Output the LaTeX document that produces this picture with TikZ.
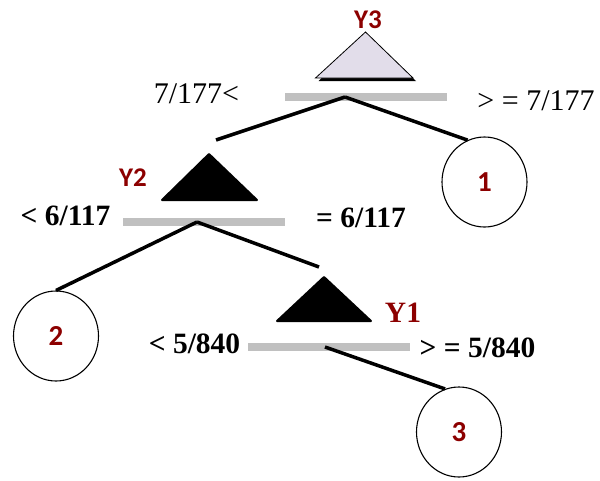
\documentclass[tikz,border=0pt]{standalone}
\usepackage{fontspec}
\setmainfont{Liberation Serif}
\newfontfamily\carl{Carlito}
\usetikzlibrary{shapes.geometric}
\definecolor{dred}{RGB}{140,0,0}
\definecolor{lav}{RGB}{226,221,234}
\definecolor{barc}{RGB}{192,192,192}
\begin{document}
\begin{tikzpicture}[x=1pt,y=-1pt,
  branch/.style={line width=3.5pt},
  splitbar/.style={draw=barc,line width=7.5pt},
  leaf/.style={ellipse,draw,line width=1.1pt,minimum width=85pt,minimum height=90pt,inner sep=0pt,font=\carl\bfseries\fontsize{29}{29}\selectfont,text=dred},
  ylab/.style={font=\carl\bfseries\fontsize{27}{27}\selectfont,text=dred,anchor=base,inner sep=0pt},
  thr/.style={font=\bfseries\fontsize{29.5}{29.5}\selectfont,anchor=base,inner sep=0pt},
  thrreg/.style={font=\fontsize{30}{30}\selectfont,anchor=base,inner sep=0pt},
  solidtri/.style={fill=black,draw=black,line width=2pt,line join=round}
]
\useasboundingbox (0,0) rectangle (600,480);
% Y3 split
\fill[black] (318.5,81) -- (368.5,35) -- (416,81) -- cycle;
\filldraw[fill=lav,draw=black,line width=0.8pt] (315.5,78) -- (365.5,32) -- (413,78) -- cycle;
\node[ylab] (y3) at (368,28) {Y3};
\draw[splitbar] (285,97) -- (447,97);
\coordinate (s3) at (345,97);
\node[thrreg] (t3l) at (196.5,103) {7/177<};
\node[thrreg] (t3r) at (536,110) {> = 7/177};
% Y2 split
\draw[solidtri] (162,200) -- (209,154) -- (257,200) -- cycle;
\node[ylab] (y2) at (133,186) {Y2};
\draw[splitbar] (123,222) -- (285,222);
\coordinate (s2) at (197,222);
\node[thr] (t2l) at (65.5,225) {< 6/117};
\node[thr] (t2r) at (361,227) {= 6/117};
% Y1 split
\draw[solidtri] (277,321) -- (324,277) -- (371,321) -- cycle;
\node[thr,text=dred] (y1) at (403,322) {Y1};
\draw[splitbar] (248,347) -- (410,347);
\coordinate (s1) at (325,347);
\node[thr] (t1l) at (194.5,353) {< 5/840};
\node[thr] (t1r) at (477.5,357) {> = 5/840};
% leaves
\node[leaf] (c1) at (484.5,182) {1};
\node[leaf] (c2) at (56,336) {2};
\node[leaf] (c3) at (459,432) {3};
% connectors
\coordinate (e1) at (216,140);
\coordinate (e2) at (319,267);
\draw[branch] (s3) -- (e1);
\draw[branch] (s3) -- (c1.112);
\draw[branch] (s2) -- (c2.90);
\draw[branch] (s2) -- (e2);
\draw[branch] (s1) -- (c3.108);
\end{tikzpicture}
\end{document}
